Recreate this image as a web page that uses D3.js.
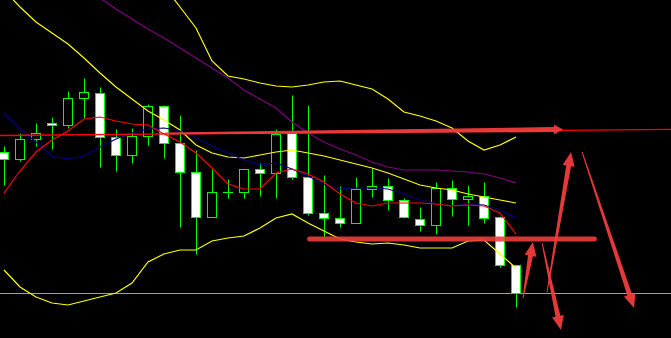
<!DOCTYPE html>
<html>
<head>
<meta charset="utf-8">
<script src="https://cdn.jsdelivr.net/npm/d3@7"></script>
<style>
  html, body { margin: 0; padding: 0; background: #000; }
  #chart { width: 671px; height: 338px; overflow: hidden; }
</style>
</head>
<body>
<div id="chart"></div>
<script>
// candles (bar index 0..32), prices
const opens  = [247.7,241.3,260.7,277,274.7,301.7,306.7,262.7,244.7,263.7,293.7,256.7,227.7,182.7,207.7,207.7,230.7,226.7,267,222.7,186.7,181.7,176.7,210.7,213.7,199.7,180.7,174.7,211.7,200.7,203.7,182.7,134.7];
const highs  = [254,266.7,277,283,308.7,322,312.7,270.7,271.7,296,295,285,250,231,221,231,236.7,271,305,295,225,214,222.7,231.7,222,202.3,193,217.7,220,215,218,184,134.7];
const lows   = [215,239.3,254,250.7,272,281.7,232.7,229.3,237.3,254.7,242.3,172.7,145.7,182.7,202.3,201.7,204.3,201.7,220.7,185.3,163.3,172.7,176.7,203.3,190,181.7,169.3,166.3,184.3,175.3,176.7,132.7,93.3];
const closes = [241.3,260.7,266.7,274.7,301.7,307.7,262.7,244.7,263.7,293.7,256.7,227.7,182.7,207.7,207.7,230.7,226.7,266,222.7,186.7,181.7,176.7,211,213.7,199.7,182.7,174.7,211.7,200.7,203.7,181.7,134.7,106.7];

// indicator lines (null = not drawn)
const maFast = [207,229,248,260,269,281,283,279,276,275,266,258,247,232,216,211,211,227,231,226,218,206,197,194,197,197,197,196,194,195,194,187,166];
const maMid  = [287,271,258,244,241,244,253,261,267,271,272,269,262,254,247,240,235,237,231,224,216,211,212,212,211,206,200,196,194,196,195,190,182];
const maSlow = [null,null,null,null,null,411,402,391,381,371,362,352,342,332,322,310,301,292,278,267,258,251,245,238,233,230,230,230,229,228,226,222,217];
const bbMid  = [410,393,378,367,356,342,327,313,301,289,280,270,255,247,243,242,245,248,250,247,244,240,236,232,227,221,215,212,210,206,203,200,197];
const bbUp   = [null,null,null,null,null,null,null,null,null,443,414,393,372,339,324,321,317,314,313,315,318,319,315,311,301,288,284,279,272,259,250,255,263];
const bbLow  = [130,113,103,97,95,99,103,107,117,138,146,150,150,159,162,164,172,182,186,177,169,161,158,156,157,155,152,152,152,159,160,146,132];

// drawn objects: [bar index, price]
const trendLine   = [[-0.25, 264.5], [41.69, 270.7]];
const resistArrow = [[10.06, 266.5], [34.94, 270.5]];
const supportLine = [[19.1, 161], [36.9, 161]];
const priceLevel  = 106.7;
const arrows = [
  [[32.44, 102], [33.06, 158]],
  [[33.63, 157], [34.81, 70]],
  [[33.94, 108], [35.44, 248]],
  [[36.13, 248], [39.38, 92]]
];

const width = 671, height = 338;

const svg = d3.select("#chart")
  .append("svg")
  .attr("width", width)
  .attr("height", height)
  .style("background", "#000");

const x = d3.scaleLinear().domain([0, 32]).range([4, 516]);
const y = d3.scaleLinear().domain([62, 400]).range([338, 0]);
const py = v => Math.round(y(v)) + 0.5;

const idx = d3.range(opens.length);

// horizontal price level (grey)
svg.append("line")
  .attr("x1", 0).attr("x2", width)
  .attr("y1", py(priceLevel)).attr("y2", py(priceLevel))
  .attr("stroke", "#a0a0a0").attr("stroke-width", 1);

// candles
const candles = svg.append("g");
candles.selectAll("line.wick")
  .data(idx)
  .enter()
  .append("line")
  .attr("class", "wick")
  .attr("x1", i => Math.round(x(i)) + 0.5)
  .attr("x2", i => Math.round(x(i)) + 0.5)
  .attr("y1", i => py(highs[i]))
  .attr("y2", i => py(lows[i]))
  .attr("stroke", "#00ff00");

candles.selectAll("rect.body")
  .data(idx.filter(i => opens[i] !== closes[i]))
  .enter()
  .append("rect")
  .attr("class", "body")
  .attr("x", i => Math.round(x(i)) - 4.5)
  .attr("width", 9)
  .attr("y", i => py(Math.max(opens[i], closes[i])))
  .attr("height", i => py(Math.min(opens[i], closes[i])) - py(Math.max(opens[i], closes[i])))
  .attr("fill", i => closes[i] > opens[i] ? "#000" : "#fff")
  .attr("stroke", "#00ff00");

candles.selectAll("line.doji")
  .data(idx.filter(i => opens[i] === closes[i]))
  .enter()
  .append("line")
  .attr("x1", i => Math.round(x(i)) - 5)
  .attr("x2", i => Math.round(x(i)) + 5)
  .attr("y1", i => py(closes[i]))
  .attr("y2", i => py(closes[i]))
  .attr("stroke", "#00ff00");

// indicators
const lineGen = d3.line()
  .defined(d => d[1] !== null)
  .x(d => x(d[0]))
  .y(d => y(d[1]));

const series = [
  [bbUp, "#ffff00"],
  [bbLow, "#ffff00"],
  [bbMid, "#ffff00"],
  [maSlow, "#800080"],
  [maMid, "#000080"],
  [maFast, "#ff0000"]
];
series.forEach(([vals, col]) => {
  svg.append("path")
    .datum(vals.map((v, i) => [i, v]))
    .attr("d", lineGen)
    .attr("fill", "none")
    .attr("stroke", col)
    .attr("stroke-width", 1.2);
});

// thin trend line
svg.append("line")
  .attr("x1", x(trendLine[0][0])).attr("y1", y(trendLine[0][1]))
  .attr("x2", x(trendLine[1][0])).attr("y2", y(trendLine[1][1]))
  .attr("stroke", "#ff0000").attr("stroke-width", 1.3);

// tapered arrow shape
function arrowPath(a, b, w0, w1, hl, hw) {
  const x0 = x(a[0]), y0 = y(a[1]), x1 = x(b[0]), y1 = y(b[1]);
  const len = Math.hypot(x1 - x0, y1 - y0);
  const dx = (x1 - x0) / len, dy = (y1 - y0) / len;
  const nx = -dy, ny = dx;
  const bx = x1 - dx * hl, by = y1 - dy * hl;
  const pts = [
    [x0 + nx * w0 / 2, y0 + ny * w0 / 2],
    [bx + nx * w1 / 2, by + ny * w1 / 2],
    [bx + nx * hw, by + ny * hw],
    [x1, y1],
    [bx - nx * hw, by - ny * hw],
    [bx - nx * w1 / 2, by - ny * w1 / 2],
    [x0 - nx * w0 / 2, y0 - ny * w0 / 2]
  ];
  return "M" + pts.map(p => p.join(",")).join("L") + "Z";
}

const red = "#f03c3c";

// support line
svg.append("line")
  .attr("x1", x(supportLine[0][0])).attr("y1", y(supportLine[0][1]))
  .attr("x2", x(supportLine[1][0])).attr("y2", y(supportLine[1][1]))
  .attr("stroke", red).attr("stroke-width", 5)
  .attr("stroke-linecap", "round").attr("opacity", 0.9);

// resistance arrow
svg.append("path")
  .attr("d", arrowPath(resistArrow[0], resistArrow[1], 2, 5, 9, 5))
  .attr("fill", red).attr("opacity", 0.95);

// direction arrows
svg.selectAll("path.arrow")
  .data(arrows)
  .enter()
  .append("path")
  .attr("class", "arrow")
  .attr("d", d => arrowPath(d[0], d[1], 1, 5, 14, 6))
  .attr("fill", red).attr("opacity", 0.95);
</script>
</body>
</html>
